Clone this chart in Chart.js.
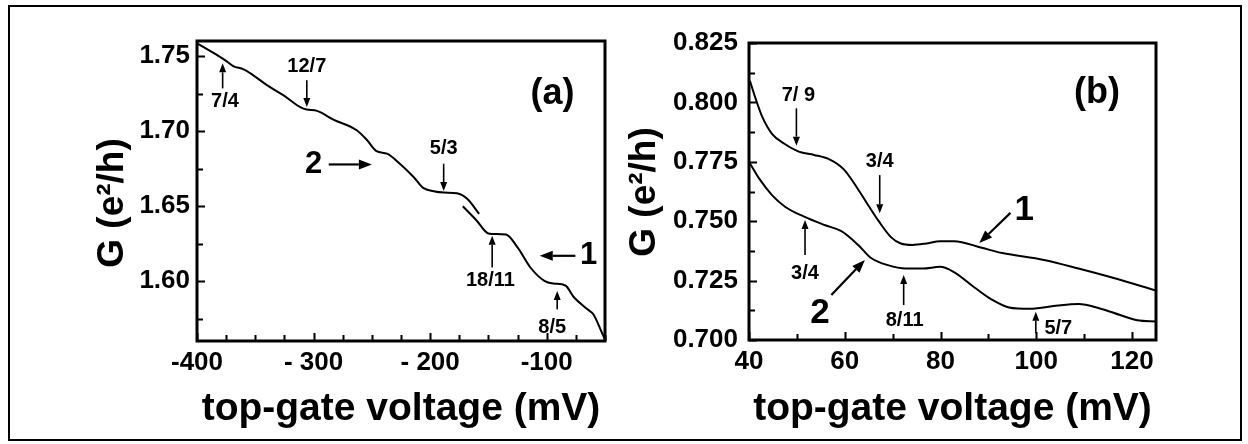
<!DOCTYPE html>
<html><head><meta charset="utf-8">
<script src="https://cdn.jsdelivr.net/npm/chart.js@4.4.1/dist/chart.umd.min.js"></script>
<style>
html,body{margin:0;padding:0;background:#fff;}
#wrap{position:relative;width:1248px;height:444px;overflow:hidden;background:#fff;}
#frame{position:absolute;left:8px;top:5px;width:1234px;height:436px;border:2px solid #000;box-sizing:border-box;}
canvas{position:absolute;left:0;top:0;}
</style></head><body>
<div id="wrap"><div id="frame"></div>
<canvas id="ca" width="1248" height="444"></canvas>
<canvas id="cb" width="1248" height="444"></canvas></div>
<script>
const FONT = '"Liberation Sans", Arial, Helvetica, sans-serif';

// ---------- Panel (a) data ----------
const aCurve2X = [-400, -383, -376, -369, -360, -352, -340, -326, -311, -306, -297, -283, -263, -254, -246, -237, -226, -214, -206, -197, -188, -177, -168, -158];
const aCurve2G = [1.7585, 1.7507, 1.7473, 1.7433, 1.7411, 1.7373, 1.7306, 1.7239, 1.7157, 1.7143, 1.7134, 1.7076, 1.7005, 1.6938, 1.6866, 1.6849, 1.6782, 1.6692, 1.6621, 1.6599, 1.6590, 1.6585, 1.6547, 1.6447];
const aCurve1X = [-172, -160, -150, -144, -135, -125, -114, -102, -94, -84, -77, -65, -60, -52, -50];
const aCurve1G = [1.6498, 1.6402, 1.6317, 1.6313, 1.6310, 1.6224, 1.6090, 1.6001, 1.5983, 1.5970, 1.5895, 1.5811, 1.5778, 1.5644, 1.5610];
const aXTicks = [-400, -300, -200, -100];
const aXTickLabels = ['-400', '- 300', '- 200', '-100'];
const aYTicks = [1.60, 1.65, 1.70, 1.75];
const aYTickLabels = ['1.60', '1.65', '1.70', '1.75'];
const aNoteText = ['7/4', '12/7', '5/3', '18/11', '8/5', '2', '1', '(a)'];
const aNoteX    = [-376, -305.8, -188.4, -148.3, -95.3, -300, -64, -95];
const aNoteG    = [1.7194, 1.7428, 1.6882, 1.6001, 1.5688, 1.6777, 1.6168, 1.7246];
const aNoteSize = [20, 20, 20, 20, 20, 31, 31, 36];
const aArrowFrom = [[-378, 1.7284], [-305.8, 1.7339], [-188.4, 1.6782], [-146.8, 1.6090], [-91, 1.5811], [-287, 1.6777], [-75.4, 1.6168]];
const aArrowTo   = [[-378, 1.7451], [-305.8, 1.7160], [-188.4, 1.6600], [-146.8, 1.6302], [-91, 1.5934], [-250, 1.6777], [-106, 1.6168]];
const aArrowBig  = [false, false, false, false, false, true, true];

// ---------- Panel (b) data ----------
const bCurve1X = [40.2, 41.4, 42.8, 44.8, 47.4, 50.4, 53.6, 56.8, 59.8, 62.6, 65.0, 67.1, 69.7, 71.7, 74.1, 77, 79.9, 82.8, 88.6, 92.9, 101.6, 108.8, 116.0, 125];
const bCurve1G = [0.8090, 0.8015, 0.7938, 0.7868, 0.7826, 0.7793, 0.7779, 0.7760, 0.7718, 0.7640, 0.7564, 0.7500, 0.7432, 0.7406, 0.7400, 0.7406, 0.7416, 0.7416, 0.7388, 0.7366, 0.7337, 0.7301, 0.7262, 0.7208];
const bCurve2X = [40.2, 42.1, 44.8, 47.6, 51.4, 55.9, 59.3, 62.8, 65.5, 69.0, 72.7, 76.3, 79.9, 82.8, 87.1, 90.7, 94.3, 98.7, 104.5, 108.8, 113.1, 117.5, 121.1, 125];
const bCurve2G = [0.7743, 0.7680, 0.7610, 0.7560, 0.7520, 0.7483, 0.7458, 0.7400, 0.7345, 0.7315, 0.7301, 0.7301, 0.7308, 0.7286, 0.7221, 0.7170, 0.7137, 0.7131, 0.7145, 0.7151, 0.7134, 0.7105, 0.7083, 0.7078];
const bXTicks = [40, 60, 80, 100, 120];
const bXTickLabels = ['40', '60', '80', '100', '120'];
const bYTicks = [0.700, 0.725, 0.750, 0.775, 0.800, 0.825];
const bYTickLabels = ['0.700', '0.725', '0.750', '0.775', '0.800', '0.825'];
const bNoteText = ['7/ 9', '3/4', '3/4', '2', '8/11', '5/7', '1', '(b)'];
const bNoteX    = [50.3, 67.3, 51.7, 54.8, 72.5, 104.6, 97.5, 112.7];
const bNoteG    = [0.8030, 0.7750, 0.7281, 0.7112, 0.7084, 0.7050, 0.7547, 0.8040];
const bNoteSize = [20, 20, 20, 35, 20, 20, 35, 36];
const bArrowFrom = [[49.9, 0.7975], [67.3, 0.7694], [51.7, 0.7358], [57.2, 0.7189], [72.3, 0.7147], [99.9, 0.7028], [94.6, 0.7535]];
const bArrowTo   = [[49.9, 0.7818], [67.3, 0.7533], [51.7, 0.7505], [64.2, 0.7337], [72.3, 0.7274], [99.9, 0.7119], [88.1, 0.7408]];
const bArrowBig  = [false, false, false, true, false, false, true];

function pts(xs, gs) { return xs.map((x, i) => ({x: x, y: gs[i]})); }

function drawArrow(ctx, x1, y1, x2, y2, big) {
  const L = big ? 13 : 9, W = big ? 5 : 3.5;
  const ang = Math.atan2(y2 - y1, x2 - x1);
  const bx = x2 - L * Math.cos(ang), by = y2 - L * Math.sin(ang);
  ctx.beginPath();
  ctx.moveTo(x1, y1); ctx.lineTo(bx, by);
  ctx.lineWidth = big ? 2.2 : 1.6;
  ctx.strokeStyle = '#000';
  ctx.stroke();
  ctx.beginPath();
  ctx.moveTo(x2, y2);
  ctx.lineTo(bx + W * Math.sin(ang), by - W * Math.cos(ang));
  ctx.lineTo(bx - W * Math.sin(ang), by + W * Math.cos(ang));
  ctx.closePath();
  ctx.fillStyle = '#000';
  ctx.fill();
}

function panelPlugin(p) {
  return {
    id: 'panel_' + p.id,
    afterDatasetsDraw(chart) {
      const ctx = chart.ctx, sx = chart.scales.x, sy = chart.scales.y;
      ctx.save();
      for (let i = 0; i < p.arrowFrom.length; i++) {
        drawArrow(ctx,
          sx.getPixelForValue(p.arrowFrom[i][0]), sy.getPixelForValue(p.arrowFrom[i][1]),
          sx.getPixelForValue(p.arrowTo[i][0]), sy.getPixelForValue(p.arrowTo[i][1]), p.arrowBig[i]);
      }
      ctx.fillStyle = '#000';
      ctx.textAlign = 'center';
      ctx.textBaseline = 'middle';
      for (let i = 0; i < p.noteText.length; i++) {
        ctx.font = 'bold ' + p.noteSize[i] + 'px ' + FONT;
        ctx.fillText(p.noteText[i], sx.getPixelForValue(p.noteX[i]), sy.getPixelForValue(p.noteG[i]));
      }
      ctx.restore();
    },
    afterDraw(chart) {
      const ctx = chart.ctx, a = chart.chartArea, sx = chart.scales.x, sy = chart.scales.y;
      ctx.save();
      ctx.strokeStyle = '#000';
      ctx.lineWidth = 2;
      ctx.beginPath();
      for (let v = sx.min; v <= sx.max + 1e-9; v += p.xMinor) {
        const major = p.xMajor.some(m => Math.abs(m - v) < 1e-6);
        const px = Math.round(sx.getPixelForValue(v)) + 0.5;
        ctx.moveTo(px, a.bottom); ctx.lineTo(px, a.bottom - (major ? 8 : 6));
      }
      for (let v = p.yMinorStart; v <= sy.max + 1e-9; v += p.yMinor) {
        const major = p.yMajor.some(m => Math.abs(m - v) < 1e-6);
        const py = Math.round(sy.getPixelForValue(v)) + 0.5;
        ctx.moveTo(a.left, py); ctx.lineTo(a.left + (major ? 8 : 6), py);
      }
      ctx.stroke();
      ctx.lineWidth = 3;
      ctx.strokeRect(a.left, a.top, a.right - a.left, a.bottom - a.top);
      ctx.fillStyle = '#000';
      ctx.font = 'bold 37px ' + FONT;
      ctx.textAlign = 'center';
      ctx.textBaseline = 'middle';
      ctx.translate(p.yTitleX, p.yTitleY);
      ctx.rotate(-Math.PI / 2);
      ctx.fillText('G (e\u00B2/h)', 0, 0);
      ctx.restore();
    }
  };
}

function makeChart(canvasId, cfg) {
  const tickFont = {size: 26, weight: 'bold', family: FONT};
  return new Chart(document.getElementById(canvasId), {
    type: 'scatter',
    data: {datasets: cfg.series.map(s => ({
      data: s, showLine: true, borderColor: '#000', borderWidth: 2,
      pointRadius: 0, pointHoverRadius: 0, cubicInterpolationMode: 'monotone', fill: false
    }))},
    options: {
      responsive: false, animation: false, devicePixelRatio: 1,
      layout: {padding: {left: 0, top: cfg.top, right: cfg.right, bottom: 0}},
      plugins: {legend: {display: false}, tooltip: {enabled: false}},
      events: [],
      scales: {
        x: {
          type: 'linear', position: 'bottom', min: cfg.xMin, max: cfg.xMax,
          afterBuildTicks: s => { s.ticks = cfg.xTicks.map(v => ({value: v})); },
          afterFit: s => { s.height = cfg.xHeight; },
          grid: {display: false, drawTicks: false}, border: {display: false},
          ticks: {
            callback: v => cfg.xTickLabels[cfg.xTicks.findIndex(t => Math.abs(t - v) < 1e-6)],
            color: '#000', font: tickFont, padding: 6, maxRotation: 0, autoSkip: false
          },
          title: {display: true, text: 'top-gate voltage (mV)', color: '#000',
                  font: {size: 39, weight: 'bold', family: FONT}, padding: {top: 0, bottom: 11}}
        },
        y: {
          type: 'linear', position: 'left', min: cfg.yMin, max: cfg.yMax,
          afterBuildTicks: s => { s.ticks = cfg.yTicks.map(v => ({value: v})); },
          afterFit: s => { s.width = cfg.yWidth; },
          grid: {display: false, drawTicks: false}, border: {display: false},
          ticks: {
            callback: v => cfg.yTickLabels[cfg.yTicks.findIndex(t => Math.abs(t - v) < 1e-6)],
            color: '#000', font: tickFont, padding: cfg.yPad, autoSkip: false
          }
        }
      }
    },
    plugins: [panelPlugin(cfg.plug)]
  });
}

makeChart('ca', {
  series: [pts(aCurve2X, aCurve2G), pts(aCurve1X, aCurve1G)],
  top: 41, right: 643, xHeight: 103, yWidth: 197, yPad: 7,
  xMin: -400, xMax: -50, yMin: 1.56, yMax: 1.76,
  xTicks: aXTicks, xTickLabels: aXTickLabels, yTicks: aYTicks, yTickLabels: aYTickLabels,
  plug: {id: 'a', noteText: aNoteText, noteX: aNoteX, noteG: aNoteG, noteSize: aNoteSize,
         arrowFrom: aArrowFrom, arrowTo: aArrowTo, arrowBig: aArrowBig,
         xMinor: 25, xMajor: aXTicks, yMinor: 0.025, yMinorStart: 1.575, yMajor: aYTicks,
         yTitleX: 113, yTitleY: 203}
});

makeChart('cb', {
  series: [pts(bCurve1X, bCurve1G), pts(bCurve2X, bCurve2G)],
  top: 43, right: 92, xHeight: 104, yWidth: 749, yPad: 11,
  xMin: 40, xMax: 125, yMin: 0.700, yMax: 0.825,
  xTicks: bXTicks, xTickLabels: bXTickLabels, yTicks: bYTicks, yTickLabels: bYTickLabels,
  plug: {id: 'b', noteText: bNoteText, noteX: bNoteX, noteG: bNoteG, noteSize: bNoteSize,
         arrowFrom: bArrowFrom, arrowTo: bArrowTo, arrowBig: bArrowBig,
         xMinor: 10, xMajor: bXTicks, yMinor: 0.0125, yMinorStart: 0.700, yMajor: bYTicks,
         yTitleX: 645, yTitleY: 192}
});
</script>
</body></html>
